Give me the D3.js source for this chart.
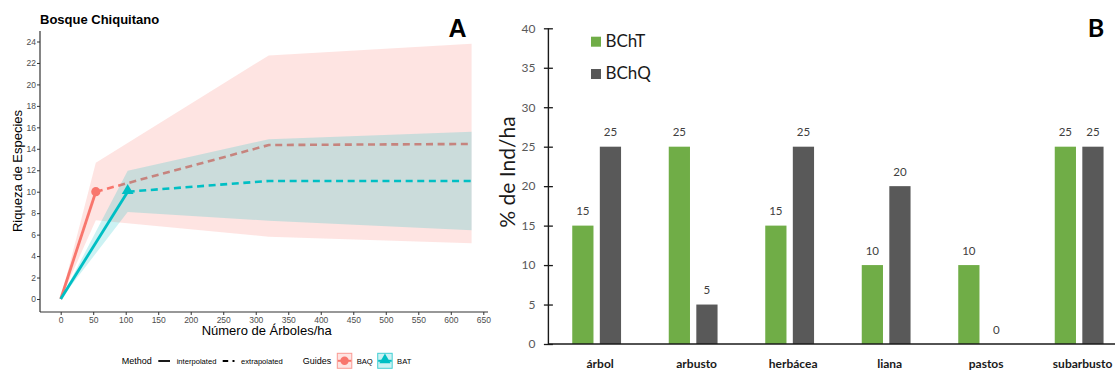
<!DOCTYPE html>
<meta charset="utf-8">
<title>Bosque Chiquitano - riqueza y % de Ind/ha</title>

<style>
  body { margin: 0; background: white; }
  svg { display: block; background: white; }
  .pa text { font-family: 'Liberation Sans', Arial, sans-serif; }
  .pb text { font-family: Lato, 'Open Sans', sans-serif; }
</style>

<body>
<div id="chart"></div>

<script src="https://d3js.org/d3.v7.min.js"></script>
<script>

// ---------- panel A : curvas de rarefaccion / extrapolacion ----------
var sizeBAQ = [0, 54, 320, 632];
var richBAQ = [0, 10, 14.35, 14.45];
var lowBAQ  = [0, 7.35, 5.8, 5.2];
var uppBAQ  = [0, 12.7, 22.7, 23.8];

var sizeBAT = [0, 103, 320, 632];
var richBAT = [0, 10, 11.0, 11.0];
var lowBAT  = [0, 8.1, 7.3, 6.4];
var uppBAT  = [0, 11.95, 14.9, 15.6];

var ticksAx = [0, 50, 100, 150, 200, 250, 300, 350, 400, 450, 500, 550, 600, 650];
var ticksAy = [0, 2, 4, 6, 8, 10, 12, 14, 16, 18, 20, 22, 24];

// ---------- panel B : % de Ind/ha por habito ----------
var categories = ["árbol", "arbusto", "herbácea", "liana", "pastos", "subarbusto"];
var seriesNames = ["BChT", "BChQ"];
var bcht = [15, 25, 15, 10, 10, 25];
var bchq = [25, 5, 25, 20, 0, 25];
var ticksBy = [0, 5, 10, 15, 20, 25, 30, 35, 40];

var width = 1115, height = 372;

var svg = d3.select("#chart")
  .append("svg")
    .attr("width", width)
    .attr("height", height);

// ================= panel A =================
var red = "#F8766D", teal = "#00BFC4";
var pa = svg.append("g").attr("class", "pa");

var xA = d3.scaleLinear().domain([0, 650]).range([60.7, 483.3]);
var yA = d3.scaleLinear().domain([0, 24]).range([299, 41.5]);
// plot frame (ggplot expansion)
var frameA = {left: 40, right: 488, top: 31, bottom: 312};

function curve(xs, m, lo, hi) {
  return xs.map(function(d, i) { return {x: d, m: m[i], lo: lo[i], hi: hi[i]}; });
}
var curves = [
  {name: "BAQ", color: red,  pts: curve(sizeBAQ, richBAQ, lowBAQ, uppBAQ)},
  {name: "BAT", color: teal, pts: curve(sizeBAT, richBAT, lowBAT, uppBAT)}
];

var area = d3.area()
  .x(function(d) { return xA(d.x); })
  .y0(function(d) { return yA(d.lo); })
  .y1(function(d) { return yA(d.hi); });
var line = d3.line()
  .x(function(d) { return xA(d.x); })
  .y(function(d) { return yA(d.m); });

curves.forEach(function(c) {
  pa.append("path")
    .datum(c.pts)
    .attr("d", area)
    .attr("fill", c.color)
    .attr("fill-opacity", 0.2);
  // interpolated (0 -> observed)
  pa.append("path")
    .datum(c.pts.slice(0, 2))
    .attr("d", line)
    .attr("fill", "none")
    .attr("stroke", c.color)
    .attr("stroke-width", 2.8);
  // extrapolated
  pa.append("path")
    .datum(c.pts.slice(1))
    .attr("d", line)
    .attr("fill", "none")
    .attr("stroke", c.color)
    .attr("stroke-width", 2.6)
    .attr("stroke-dasharray", "7,4.6");
  var obs = c.pts[1];
  if (c.name == "BAQ") {
    pa.append("circle")
      .attr("cx", xA(obs.x)).attr("cy", yA(obs.m)).attr("r", 4.6)
      .attr("fill", c.color);
  } else {
    pa.append("path")
      .attr("d", d3.symbol().type(d3.symbolTriangle).size(60))
      .attr("transform", "translate(" + xA(obs.x) + "," + (yA(obs.m) - 1) + ")")
      .attr("fill", c.color);
  }
});

// axes
var axAy = pa.append("g")
  .attr("transform", "translate(" + frameA.left + ",0)")
  .call(d3.axisLeft(yA).tickValues(ticksAy).tickSize(3).tickPadding(1));
var axAx = pa.append("g")
  .attr("transform", "translate(0," + frameA.bottom + ")")
  .call(d3.axisBottom(xA).tickValues(ticksAx).tickSize(3).tickPadding(1.5));
[axAy, axAx].forEach(function(a) {
  a.select(".domain").remove();
  a.selectAll("line").attr("stroke", "#333");
  a.selectAll("text").attr("fill", "#4D4D4D").style("font-size", "8.5px");
});
pa.append("line")
  .attr("x1", frameA.left).attr("x2", frameA.left)
  .attr("y1", frameA.top).attr("y2", frameA.bottom)
  .attr("stroke", "#333").attr("stroke-width", 1.2);
pa.append("line")
  .attr("x1", frameA.left).attr("x2", frameA.right)
  .attr("y1", frameA.bottom).attr("y2", frameA.bottom)
  .attr("stroke", "#333").attr("stroke-width", 1.2);

pa.append("text")
  .attr("x", 40).attr("y", 24)
  .style("font-size", "13px").style("font-weight", "bold")
  .text("Bosque Chiquitano");
pa.append("text")
  .attr("transform", "translate(21.5,171) rotate(-90)")
  .attr("text-anchor", "middle")
  .style("font-size", "13px")
  .text("Riqueza de Especies");
pa.append("text")
  .attr("x", 266.7).attr("y", 335)
  .attr("text-anchor", "middle")
  .style("font-size", "13px")
  .text("Número de Árboles/ha");
pa.append("text")
  .attr("x", 457.5).attr("y", 37)
  .attr("text-anchor", "middle")
  .style("font-size", "25px").style("font-weight", "bold")
  .text("A");

// bottom legend
var lg = pa.append("g").attr("transform", "translate(0,364)");
lg.append("text").attr("x", 121.7).attr("y", 0).style("font-size", "9px").text("Method");
lg.append("line").attr("x1", 158.3).attr("x2", 170).attr("y1", -3).attr("y2", -3)
  .attr("stroke", "black").attr("stroke-width", 1.8);
lg.append("text").attr("x", 176.7).attr("y", 0).style("font-size", "7.6px").text("interpolated");
lg.append("line").attr("x1", 222.7).attr("x2", 234.5).attr("y1", -3).attr("y2", -3)
  .attr("stroke", "black").attr("stroke-width", 1.8).attr("stroke-dasharray", "5.5,4.3");
lg.append("text").attr("x", 241).attr("y", 0).style("font-size", "7.6px").text("extrapolated");
lg.append("text").attr("x", 302.7).attr("y", 0).style("font-size", "9px").text("Guides");

var keyX = [337.3, 377.7];
curves.forEach(function(c, i) {
  var k = lg.append("g").attr("transform", "translate(" + keyX[i] + ",-10.7)");
  k.append("rect").attr("width", 14.5).attr("height", 15)
    .attr("fill", c.color).attr("fill-opacity", 0.2)
    .attr("stroke", c.color).attr("stroke-opacity", 0.7).attr("stroke-width", 1);
  k.append("line").attr("x1", 0.5).attr("x2", 14).attr("y1", 7.5).attr("y2", 7.5)
    .attr("stroke", c.color).attr("stroke-width", 2);
  if (c.name == "BAQ") {
    k.append("circle").attr("cx", 7.25).attr("cy", 7.5).attr("r", 4.2).attr("fill", c.color);
  } else {
    k.append("path").attr("d", d3.symbol().type(d3.symbolTriangle).size(55))
      .attr("transform", "translate(7.25,6.8)").attr("fill", c.color);
  }
  lg.append("text").attr("x", keyX[i] + 19.4).attr("y", 0)
    .style("font-size", "7.6px").text(c.name);
});

// ================= panel B =================
var green = "#70AD47", dark = "#595959";
var pb = svg.append("g").attr("class", "pb");

var yB = d3.scaleLinear().domain([0, 40]).range([344, 28.3]);
var xB = d3.scaleBand().domain(categories).range([548.4, 1127.4]);
var xSub = d3.scaleBand().domain(seriesNames).range([-24.4, 24.4]).paddingInner(0.23);
var color = d3.scaleOrdinal().domain(seriesNames).range([green, dark]);

var rows = categories.map(function(c, i) {
  return {cat: c, vals: [{k: "BChT", v: bcht[i]}, {k: "BChQ", v: bchq[i]}]};
});

var groups = pb.selectAll("g.grp")
  .data(rows)
  .enter().append("g")
    .attr("class", "grp")
    .attr("transform", function(d) { return "translate(" + (xB(d.cat) + xB.bandwidth() / 2) + ",0)"; });

groups.selectAll("rect")
  .data(function(d) { return d.vals; })
  .enter().append("rect")
    .attr("x", function(d) { return xSub(d.k); })
    .attr("width", xSub.bandwidth())
    .attr("y", function(d) { return yB(d.v); })
    .attr("height", function(d) { return yB(0) - yB(d.v); })
    .attr("fill", function(d) { return color(d.k); });

groups.selectAll("text.val")
  .data(function(d) { return d.vals; })
  .enter().append("text")
    .attr("class", "val")
    .attr("x", function(d) { return xSub(d.k) + xSub.bandwidth() / 2; })
    .attr("y", function(d) { return yB(d.v) - 10.5; })
    .attr("text-anchor", "middle")
    .attr("fill", "#404040")
    .style("font-size", "11.5px")
    .text(function(d) { return d.v; });

// y axis with crossing ticks
var axBy = pb.append("g")
  .attr("transform", "translate(548.4,0)")
  .call(d3.axisLeft(yB).tickValues(ticksBy).tickSize(4).tickPadding(9));
axBy.select(".domain").remove();
axBy.selectAll("line").attr("x1", 4.5).attr("x2", -4.5).attr("stroke", "#1a1a1a").attr("stroke-width", 1.3);
axBy.selectAll("text").attr("fill", "#595959").style("font-size", "12px");
pb.append("line")
  .attr("x1", 548.4).attr("x2", 548.4).attr("y1", yB(40)).attr("y2", yB(0))
  .attr("stroke", "#1a1a1a").attr("stroke-width", 1.4);
pb.append("line")
  .attr("x1", 548.4).attr("x2", width).attr("y1", yB(0)).attr("y2", yB(0))
  .attr("stroke", "#1a1a1a").attr("stroke-width", 1.4);

// category labels
pb.selectAll("text.cat")
  .data(categories)
  .enter().append("text")
    .attr("class", "cat")
    .attr("x", function(d) { return xB(d) + xB.bandwidth() / 2 + 3.5; })
    .attr("y", 368)
    .attr("text-anchor", "middle")
    .attr("fill", "#1a1a1a")
    .style("font-size", "12px").style("font-weight", "bold")
    .text(function(d) { return d; });

pb.append("text")
  .attr("transform", "translate(515,172) rotate(-90)")
  .attr("text-anchor", "middle")
  .attr("fill", "#1a1a1a")
  .style("font-size", "21px")
  .text("% de Ind/ha");

// legend
seriesNames.forEach(function(s, i) {
  pb.append("rect")
    .attr("x", 591).attr("y", 36.7 + i * 32.3)
    .attr("width", 10).attr("height", 10)
    .attr("fill", color(s));
  pb.append("text")
    .attr("x", 605.5).attr("y", 47 + i * 32.3)
    .attr("fill", "#1a1a1a")
    .style("font-size", "17px")
    .text(s);
});

pb.append("text")
  .attr("x", 1096).attr("y", 37)
  .attr("text-anchor", "middle")
  .style("font-size", "25px").style("font-weight", "bold")
  .text("B");

</script>
</body>
